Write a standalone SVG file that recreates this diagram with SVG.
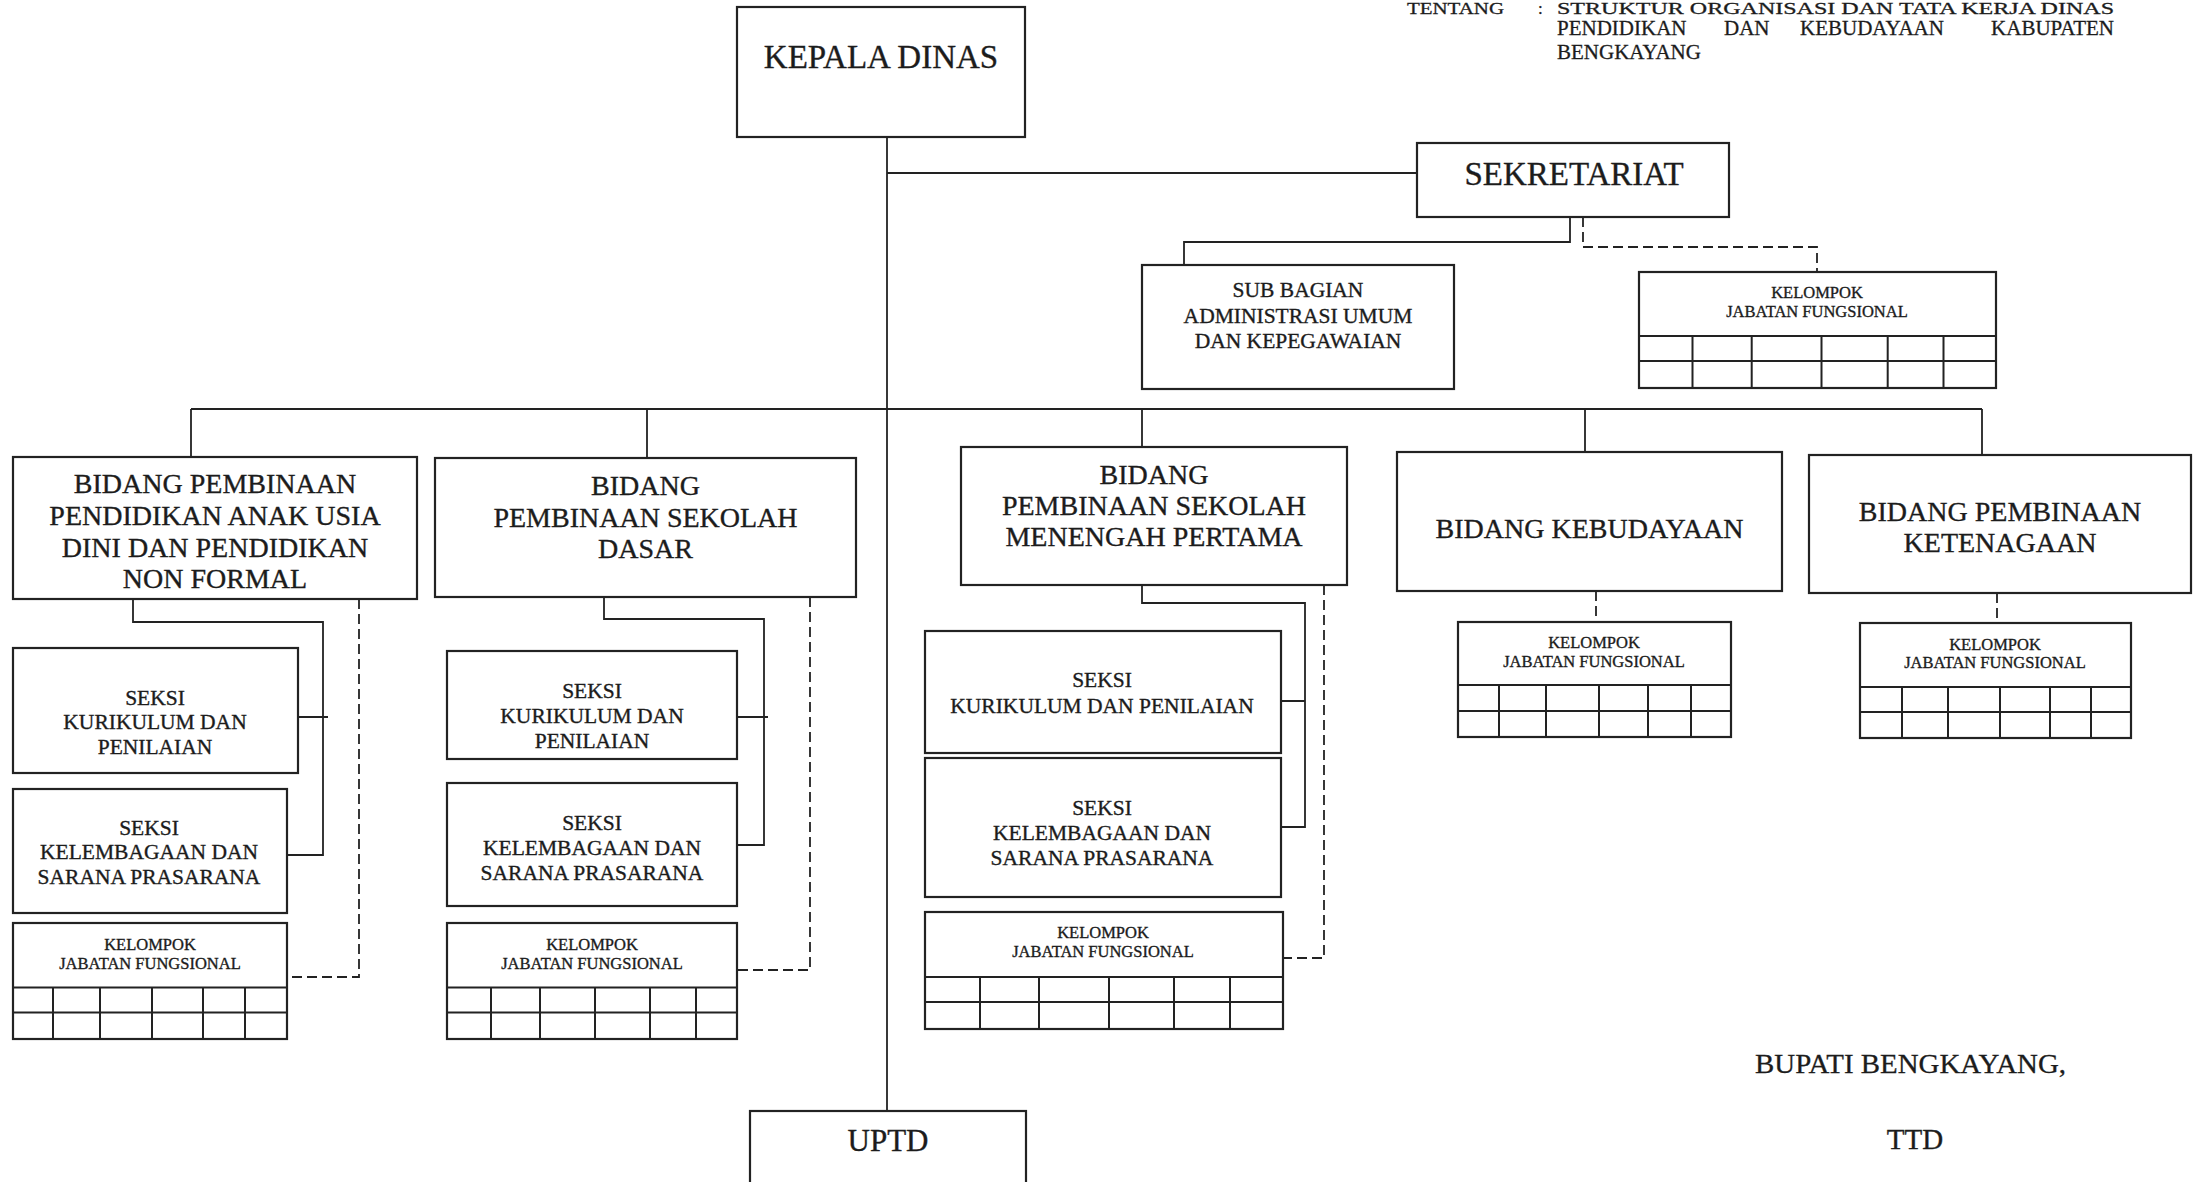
<svg xmlns="http://www.w3.org/2000/svg" width="2193" height="1182" viewBox="0 0 2193 1182">
<style>
.box{fill:#fff;stroke:#222;stroke-width:2.2}
.grid{fill:none;stroke:#222;stroke-width:2}
.ln{fill:none;stroke:#222;stroke-width:1.8}
.dash{stroke-dasharray:10 5}
.t{font-family:"Liberation Serif","Times New Roman",serif;fill:#1c1c1c;stroke:#1c1c1c;stroke-width:0.35;text-anchor:middle}
.h{font-size:33px}
.b{font-size:28px}
.s{font-size:21.5px}
.k{font-size:16.5px}
.hd{font-family:"Liberation Serif","Times New Roman",serif;fill:#1c1c1c;stroke:#1c1c1c;stroke-width:0.3;font-size:21px}
.hd1{font-size:17px}
</style>
<rect width="2193" height="1182" fill="#fff"/>

<g id="connectors">
<path class="ln" d="M887,137 V1111"/>
<path class="ln" d="M887,173 H1417"/>
<path class="ln" d="M191,409 H1982"/>
<path class="ln" d="M191,409 V457 M647,409 V458 M1142,409 V447 M1585,409 V452 M1982,409 V455"/>
<path class="ln" d="M1570,217 V242 H1184 V265"/>
<path class="ln dash" d="M1583,217 V247 H1817 V272"/>
<path class="ln" d="M133,599 V622 H323 V855 H287 M298,717 H328"/>
<path class="ln dash" d="M359,599 V977 H287"/>
<path class="ln" d="M604,597 V619 H764 V845 H737 M737,717 H768"/>
<path class="ln dash" d="M810,597 V970 H737"/>
<path class="ln" d="M1142,585 V603 H1305 V827 H1281 M1281,701 H1305"/>
<path class="ln dash" d="M1324,585 V958 H1283"/>
<path class="ln dash" d="M1596,591 V622"/>
<path class="ln dash" d="M1997,593 V623"/>
</g>

<g id="kepala-dinas">
<rect class="box" x="737" y="7" width="288" height="130"/>
<text class="t h" x="881" y="68">KEPALA DINAS</text>
</g>

<g id="sekretariat">
<rect class="box" x="1417" y="143" width="312" height="74"/>
<text class="t h" x="1574" y="185">SEKRETARIAT</text>
</g>

<g id="subbag-umum">
<rect class="box" x="1142" y="265" width="312" height="124"/>
<text class="t s" x="1298" y="297">SUB BAGIAN</text>
<text class="t s" x="1298" y="323">ADMINISTRASI UMUM</text>
<text class="t s" x="1298" y="348">DAN KEPEGAWAIAN</text>
</g>

<g id="kjf-sekretariat">
<rect class="box" x="1639" y="272" width="357" height="116"/>
<path class="grid" d="M1639,336 H1996 M1639,361 H1996 M1692.5,336 V388 M1751.7,336 V388 M1821.5,336 V388 M1887.7,336 V388 M1943.5,336 V388"/>
<text class="t k" x="1817" y="298">KELOMPOK</text>
<text class="t k" x="1817" y="317">JABATAN FUNGSIONAL</text>
</g>

<g id="bidang-paud">
<rect class="box" x="13" y="457" width="404" height="142"/>
<text class="t b" x="215" y="493">BIDANG PEMBINAAN</text>
<text class="t b" x="215" y="525">PENDIDIKAN ANAK USIA</text>
<text class="t b" x="215" y="557">DINI DAN PENDIDIKAN</text>
<text class="t b" x="215" y="588">NON FORMAL</text>
</g>

<g id="paud-kurikulum">
<rect class="box" x="13" y="648" width="285" height="125"/>
<text class="t s" x="155" y="705">SEKSI</text>
<text class="t s" x="155" y="729">KURIKULUM DAN</text>
<text class="t s" x="155" y="754">PENILAIAN</text>
</g>

<g id="paud-kelembagaan">
<rect class="box" x="13" y="789" width="274" height="124"/>
<text class="t s" x="149" y="835">SEKSI</text>
<text class="t s" x="149" y="859">KELEMBAGAAN DAN</text>
<text class="t s" x="149" y="884">SARANA PRASARANA</text>
</g>

<g id="paud-kjf">
<rect class="box" x="13" y="923" width="274" height="116"/>
<path class="grid" d="M13,987.5 H287 M13,1012.5 H287 M53,987.5 V1039 M100,987.5 V1039 M152,987.5 V1039 M203,987.5 V1039 M245,987.5 V1039"/>
<text class="t k" x="150" y="950">KELOMPOK</text>
<text class="t k" x="150" y="969">JABATAN FUNGSIONAL</text>
</g>

<g id="bidang-sd">
<rect class="box" x="435" y="458" width="421" height="139"/>
<text class="t b" x="645.5" y="495">BIDANG</text>
<text class="t b" x="645.5" y="527">PEMBINAAN SEKOLAH</text>
<text class="t b" x="645.5" y="558">DASAR</text>
</g>

<g id="sd-kurikulum">
<rect class="box" x="447" y="651" width="290" height="108"/>
<text class="t s" x="592" y="698">SEKSI</text>
<text class="t s" x="592" y="723">KURIKULUM DAN</text>
<text class="t s" x="592" y="748">PENILAIAN</text>
</g>

<g id="sd-kelembagaan">
<rect class="box" x="447" y="783" width="290" height="123"/>
<text class="t s" x="592" y="830">SEKSI</text>
<text class="t s" x="592" y="855">KELEMBAGAAN DAN</text>
<text class="t s" x="592" y="880">SARANA PRASARANA</text>
</g>

<g id="sd-kjf">
<rect class="box" x="447" y="923" width="290" height="116"/>
<path class="grid" d="M447,987.5 H737 M447,1012.5 H737 M491,987.5 V1039 M540,987.5 V1039 M595,987.5 V1039 M650,987.5 V1039 M696,987.5 V1039"/>
<text class="t k" x="592" y="950">KELOMPOK</text>
<text class="t k" x="592" y="969">JABATAN FUNGSIONAL</text>
</g>

<g id="bidang-smp">
<rect class="box" x="961" y="447" width="386" height="138"/>
<text class="t b" x="1154" y="484">BIDANG</text>
<text class="t b" x="1154" y="515">PEMBINAAN SEKOLAH</text>
<text class="t b" x="1154" y="546">MENENGAH PERTAMA</text>
</g>

<g id="smp-kurikulum">
<rect class="box" x="925" y="631" width="356" height="122"/>
<text class="t s" x="1102" y="687">SEKSI</text>
<text class="t s" x="1102" y="713">KURIKULUM DAN PENILAIAN</text>
</g>

<g id="smp-kelembagaan">
<rect class="box" x="925" y="758" width="356" height="139"/>
<text class="t s" x="1102" y="815">SEKSI</text>
<text class="t s" x="1102" y="840">KELEMBAGAAN DAN</text>
<text class="t s" x="1102" y="865">SARANA PRASARANA</text>
</g>

<g id="smp-kjf">
<rect class="box" x="925" y="912" width="358" height="117"/>
<path class="grid" d="M925,977 H1283 M925,1002 H1283 M980,977 V1029 M1039,977 V1029 M1109,977 V1029 M1174,977 V1029 M1230,977 V1029"/>
<text class="t k" x="1103" y="938">KELOMPOK</text>
<text class="t k" x="1103" y="957">JABATAN FUNGSIONAL</text>
</g>

<g id="bidang-kebudayaan">
<rect class="box" x="1397" y="452" width="385" height="139"/>
<text class="t b" x="1589.5" y="538">BIDANG KEBUDAYAAN</text>
</g>

<g id="kebudayaan-kjf">
<rect class="box" x="1458" y="622" width="273" height="115"/>
<path class="grid" d="M1458,685 H1731 M1458,711 H1731 M1499,685 V737 M1546,685 V737 M1599,685 V737 M1648,685 V737 M1691,685 V737"/>
<text class="t k" x="1594" y="648">KELOMPOK</text>
<text class="t k" x="1594" y="667">JABATAN FUNGSIONAL</text>
</g>

<g id="bidang-ketenagaan">
<rect class="box" x="1809" y="455" width="382" height="138"/>
<text class="t b" x="2000" y="521">BIDANG PEMBINAAN</text>
<text class="t b" x="2000" y="552">KETENAGAAN</text>
</g>

<g id="ketenagaan-kjf">
<rect class="box" x="1860" y="623" width="271" height="115"/>
<path class="grid" d="M1860,687 H2131 M1860,712 H2131 M1902,687 V738 M1948,687 V738 M2000,687 V738 M2050,687 V738 M2091,687 V738"/>
<text class="t k" x="1995" y="650">KELOMPOK</text>
<text class="t k" x="1995" y="668">JABATAN FUNGSIONAL</text>
</g>

<g id="uptd">
<rect class="box" x="750" y="1111" width="276" height="90"/>
<text class="t" style="font-size:31px" x="888" y="1151">UPTD</text>
</g>

<g id="header">
<text class="hd hd1" x="1407" y="14" textLength="97" lengthAdjust="spacingAndGlyphs">TENTANG</text>
<text class="hd hd1" x="1538" y="14">:</text>
<text class="hd hd1" x="1557" y="14" textLength="557" lengthAdjust="spacingAndGlyphs">STRUKTUR ORGANISASI DAN TATA KERJA DINAS</text>
<text class="hd" y="35"><tspan x="1557">PENDIDIKAN</tspan><tspan x="1724">DAN</tspan><tspan x="1800">KEBUDAYAAN</tspan></text>
<text class="hd" x="2114" y="35" text-anchor="end">KABUPATEN</text>
<text class="hd" x="1557" y="59">BENGKAYANG</text>
</g>

<g id="signature">
<text class="hd" style="font-size:27.5px" x="1755" y="1073" textLength="311" lengthAdjust="spacingAndGlyphs">BUPATI BENGKAYANG,</text>
<text class="t" style="font-size:29px" x="1915" y="1149">TTD</text>
</g>
</svg>
